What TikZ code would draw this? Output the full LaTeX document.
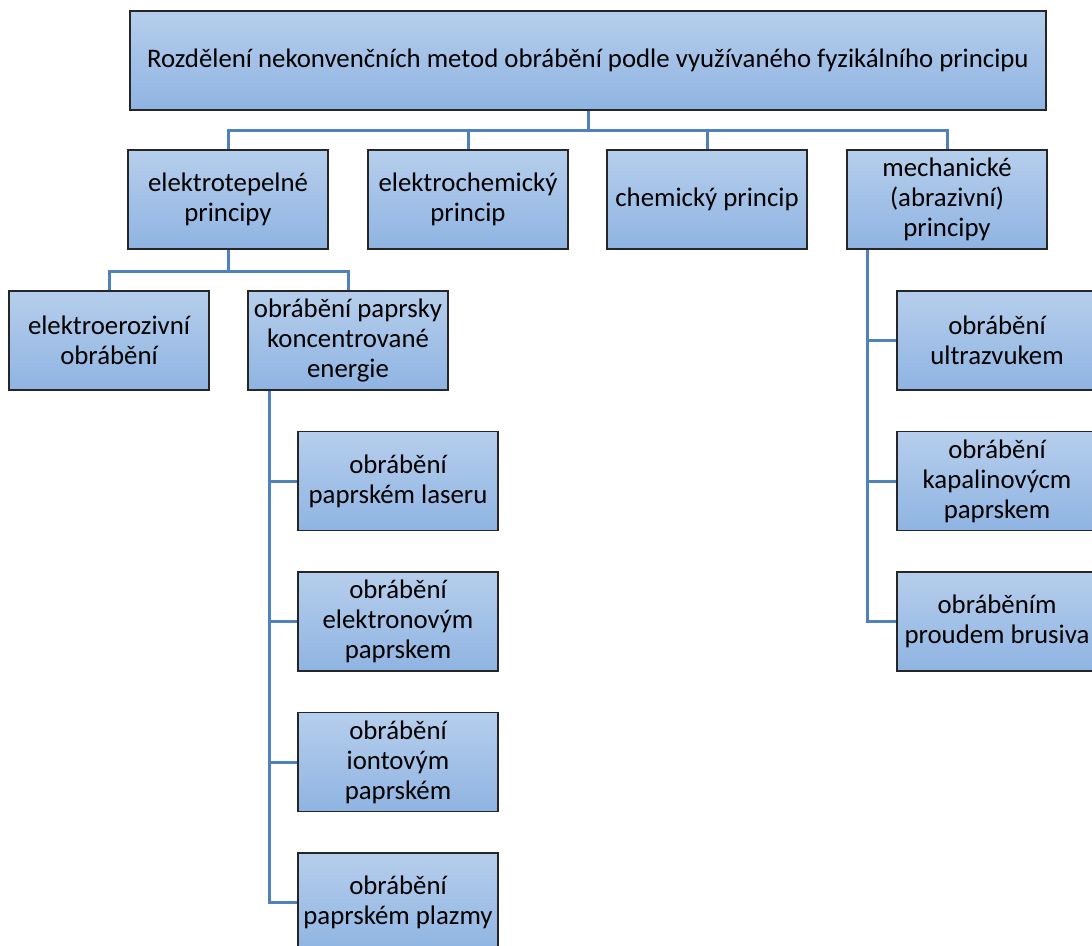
\documentclass[tikz,border=0pt]{standalone}
\usepackage{fontspec}
\setmainfont{Carlito}
\usepackage{tikz}
\usetikzlibrary{calc}

\definecolor{boxtop}{HTML}{B6CEEC}
\definecolor{boxbot}{HTML}{8FB4E2}
\definecolor{boxline}{HTML}{262626}
\definecolor{connblue}{HTML}{4F81BD}

\tikzset{
  box/.style={draw=boxline, line width=0.8pt, top color=boxtop, bottom color=boxbot,
    minimum width=100pt, minimum height=49.5pt, inner sep=0pt, align=center,
    font=\fontsize{13.4}{15}\selectfont},
  topbox/.style={box, minimum width=458pt},
  conn/.style={draw=connblue, line width=1.5pt}
}

\begin{document}
\begin{tikzpicture}[x=0.5pt, y=-0.5pt]
          \useasboundingbox (0,0) rectangle (1092,946);

          \node [topbox] (top) at (588,60.5) {Rozdělení nekonvenčních metod obrábění podle využívaného fyzikálního principu}; % root

          \node [box] (ept) at (228,199.5) {elektrotepelné\\principy}; % level 2
          \node [box] (ech) at (468,199.5) {elektrochemický\\princip};
          \node [box] (chem) at (707,199.5) {chemický princip};
          \node [box] (mech) at (947,199.5) {mechanické\\(abrazivní)\\principy};

          \node [box] (eer) at (109,340.5) {elektroerozivní\\obrábění}; % level 3
          \node [box] (pke) at (348,340.5) {obrábění paprsky\\koncentrované\\energie};

          \node [box] (laser) at (398,481) {obrábění\\paprském laseru};
          \node [box] (elek) at (398,621.5) {obrábění\\elektronovým\\paprskem};
          \node [box] (iont) at (398,762) {obrábění\\iontovým\\paprském};
          \node [box] (plaz) at (398,902.5) {obrábění\\paprském plazmy};

          \node [box] (ultra) at (997,340.5) {obrábění\\ultrazvukem};
          \node [box] (kapal) at (997,481) {obrábění\\kapalinovýcm\\paprskem};
          \node [box] (brus) at (997,621.5) {obráběním\\proudem brusiva};

          \draw [conn] (top.south) -- ++(0,20) -| (ept.north);
          \draw [conn] (top.south) -- ++(0,20) -| (ech.north);
          \draw [conn] (top.south) -- ++(0,20) -| (chem.north);
          \draw [conn] (top.south) -- ++(0,20) -| (mech.north);

          \draw [conn] (ept.south) -- ++(0,22) -| (eer.north);
          \draw [conn] (ept.south) -- ++(0,22) -| (pke.north);

          \draw [conn] ([xshift=11pt]pke.south west) |- (laser.west);
          \draw [conn] ([xshift=11pt]pke.south west) |- (elek.west);
          \draw [conn] ([xshift=11pt]pke.south west) |- (iont.west);
          \draw [conn] ([xshift=11pt]pke.south west) |- (plaz.west);

          \draw [conn] ([xshift=10.5pt]mech.south west) |- (ultra.west);
          \draw [conn] ([xshift=10.5pt]mech.south west) |- (kapal.west);
          \draw [conn] ([xshift=10.5pt]mech.south west) |- (brus.west);
        \end{tikzpicture}
\end{document}
